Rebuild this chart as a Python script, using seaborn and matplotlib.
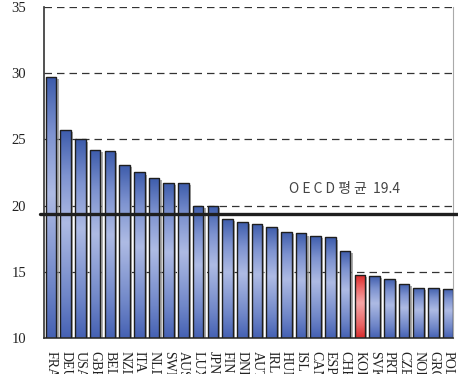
import numpy as np
import pandas as pd
import seaborn as sns
import matplotlib.pyplot as plt
import matplotlib.colors as mcolors
import matplotlib.patheffects as pe
from matplotlib.patches import Rectangle

countries = ["FRA", "DEU", "USA", "GBR", "BEL", "NZL", "ITA", "NLD", "SWE", "AUS",
             "LUX", "JPN", "FIN", "DNK", "AUT", "IRL", "HUN", "ISL", "CAN", "ESP",
             "CHE", "KOR", "SVK", "PRT", "CZE", "NOR", "GRC", "POL"]
values = [29.7, 25.7, 25.0, 24.2, 24.1, 23.1, 22.5, 22.1, 21.7, 21.7,
          20.0, 20.0, 19.0, 18.8, 18.6, 18.4, 18.0, 17.9, 17.7, 17.6,
          16.6, 14.8, 14.7, 14.5, 14.1, 13.8, 13.8, 13.7]
oecd_avg = 19.4
highlight = "KOR"

# gradient from bottom of bar to top
blue_grad = mcolors.LinearSegmentedColormap.from_list(
    "blue_grad",
    [(0.0, "#4561b3"), (0.2, "#6f86c8"), (0.55, "#aebbe4"), (0.78, "#7e93d0"), (1.0, "#3c5bab")])
red_grad = mcolors.LinearSegmentedColormap.from_list(
    "red_grad",
    [(0.0, "#d82b2b"), (0.2, "#e86464"), (0.55, "#f6a6a6"), (0.78, "#ec6a6a"), (1.0, "#dd2626")])


def main():
    sns.set_style("white")
    plt.rcParams["font.family"] = ["Liberation Serif", "DejaVu Serif"]

    df = pd.DataFrame({"country": countries, "value": values})

    fig = plt.figure(figsize=(4.58, 3.74), dpi=100)
    ax = fig.add_axes([0.0967, 0.0957, 0.8917, 0.8863])

    sns.barplot(data=df, x="country", y="value", color="#4561b3", width=0.72,
                edgecolor="none", linewidth=0, ax=ax, zorder=2)

    ymin, ymax = 10, 35
    ax.set_ylim(ymin, ymax)
    ax.set_xlim(-0.46, len(countries) - 1 + 0.31)

    grad = np.linspace(0, 1, 256).reshape(-1, 1)
    for patch, name in zip(ax.patches, df["country"]):
        x0 = patch.get_x()
        w = patch.get_width()
        top = patch.get_height()
        patch.set_path_effects([pe.SimplePatchShadow(offset=(1.6, -1.6), shadow_rgbFace="#888888", alpha=0.7),
                                pe.Normal()])
        cmap = red_grad if name == highlight else blue_grad
        img = ax.imshow(grad, cmap=cmap, aspect="auto", origin="lower",
                        extent=(x0, x0 + w, ymin, top), zorder=2.5, interpolation="bicubic")
        img.set_clip_path(patch)
        ax.add_patch(Rectangle((x0, ymin), w, top - ymin, fill=False,
                               edgecolor="#1e1e1e", linewidth=1.0, zorder=3))
    ax.set_xlim(-0.46, len(countries) - 1 + 0.31)
    ax.set_ylim(ymin, ymax)

    # dashed grid
    for yv in [15, 20, 25, 30, 35]:
        ax.axhline(yv, color="#333333", linewidth=0.9, linestyle=(0, (6, 4)), zorder=1)

    # OECD average line
    ax.axhline(oecd_avg, xmin=-0.01, xmax=1.02, color="#1f1f1f", linewidth=2.4,
               zorder=4, clip_on=False)
    ax.text(0.60, 21.25, "O E C D 평 균  19.4", transform=ax.get_yaxis_transform(),
            fontsize=10, color="#444444", va="center", ha="left",
            family=["Noto Sans CJK KR", "DejaVu Sans"])

    ax.set_yticks([10, 15, 20, 25, 30, 35])
    ax.tick_params(axis="y", labelsize=10.5, length=0, pad=13, colors="#222222")
    ax.tick_params(axis="x", labelsize=10, length=0, pad=9, rotation=-90, colors="#222222")
    for lbl in ax.get_xticklabels():
        lbl.set_va("top")
        lbl.set_ha("center")
    ax.set_xlabel("")
    ax.set_ylabel("")

    ax.spines["top"].set_visible(False)
    ax.spines["left"].set_color("#333333")
    ax.spines["left"].set_linewidth(1.2)
    ax.spines["bottom"].set_color("#333333")
    ax.spines["bottom"].set_linewidth(1.2)
    ax.spines["right"].set_color("#aaaaaa")
    ax.spines["right"].set_linewidth(0.8)

    fig.savefig("out.png", dpi=100)


if __name__ == "__main__":
    main()
